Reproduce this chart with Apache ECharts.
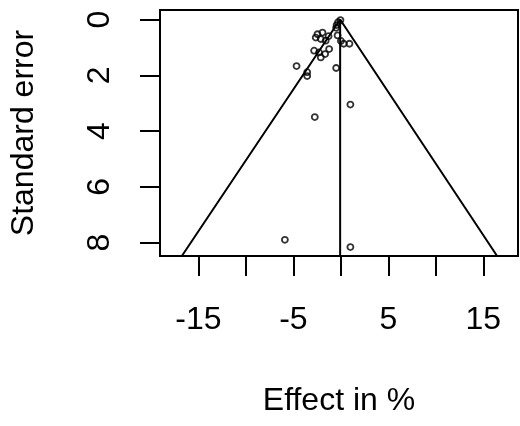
<!DOCTYPE html>
<html>
<head>
<meta charset="utf-8">
<script src="https://cdn.jsdelivr.net/npm/echarts@6/dist/echarts.min.js"></script>
<style>
  html, body { margin: 0; padding: 0; background: #fff; }
  #chart { width: 520px; height: 426px; }
</style>
</head>
<body>
<div id="chart"></div>
<script>
// effect sizes (%) and their standard errors
var effect = [-0.05, -0.3, -0.45, -0.5,
  -1.94, -2.47, -2.65, -2.12, -1.6, -1.3, -2.82, -2.3, -1.66, -1.24, -2.12,
  -0.35, 0.0, 0.3, 0.9,
  -4.67, -3.55, -3.55, -0.5, 1.0, -2.75, -5.9, 1.0];
var stdErr = [0.02, 0.1, 0.2, 0.3,
  0.47, 0.53, 0.65, 0.7, 0.76, 0.6, 1.12, 1.18, 1.24, 1.06, 1.36,
  0.57, 0.77, 0.87, 0.87,
  1.67, 1.89, 2.03, 1.74, 3.05, 3.5, 7.9, 8.16];

// funnel outline (pseudo 95% region) and the vertical line at the estimate
var funnelX = [-16.75, -0.08, 16.45];
var funnelY = [8.48, 0, 8.48];
var centerX = [-0.08, -0.08];
var centerY = [0, 8.48];

var xTicks = [-15, -10, -5, 0, 5, 10, 15];
var xLabels = [-15, -5, 5, 15];
var yTicks = [0, 2, 4, 6, 8];

function zip(a, b) {
  var out = [];
  for (var i = 0; i < a.length; i++) out.push([a[i], b[i]]);
  return out;
}

var font = 'Liberation Sans, Arial, sans-serif';
var chart = echarts.init(document.getElementById('chart'), null, { renderer: 'canvas' });

chart.setOption({
  animation: false,
  grid: {
    left: 159, right: 2, top: 10, bottom: 170,
    show: true, borderColor: '#000', borderWidth: 2, backgroundColor: 'transparent'
  },
  xAxis: {
    type: 'value', position: 'bottom', min: -19.05, max: 18.65,
    name: 'Effect in %', nameLocation: 'middle', nameGap: 129,
    nameTextStyle: { fontFamily: font, fontSize: 32, color: '#000' },
    splitLine: { show: false },
    axisLine: { show: false, onZero: false },
    axisTick: { show: true, inside: false, customValues: xTicks, length: 20, lineStyle: { color: '#000', width: 2 } },
    axisLabel: { customValues: xLabels, margin: 48, fontFamily: font, fontSize: 32, color: '#000' }
  },
  yAxis: {
    type: 'value', position: 'left', inverse: true, min: -0.34, max: 8.48,
    name: 'Standard error', nameLocation: 'middle', nameGap: 120, nameRotate: 90,
    nameTextStyle: { fontFamily: font, fontSize: 32, color: '#000' },
    splitLine: { show: false },
    axisLine: { show: false, onZero: false },
    axisTick: { show: true, inside: false, customValues: yTicks, length: 20, lineStyle: { color: '#000', width: 2 } },
    axisLabel: { customValues: yTicks, rotate: 90, margin: 44, fontFamily: font, fontSize: 32, color: '#000' }
  },
  series: [
    {
      type: 'line', data: zip(funnelX, funnelY), symbol: 'none',
      lineStyle: { color: '#000', width: 2 }, silent: true
    },
    {
      type: 'line', data: zip(centerX, centerY), symbol: 'none',
      lineStyle: { color: '#000', width: 2 }, silent: true
    },
    {
      type: 'scatter', data: zip(effect, stdErr), symbol: 'circle', symbolSize: 6,
      itemStyle: { color: 'rgba(0,0,0,0)', borderColor: '#000', borderWidth: 1.8 }
    }
  ]
});
</script>
</body>
</html>
